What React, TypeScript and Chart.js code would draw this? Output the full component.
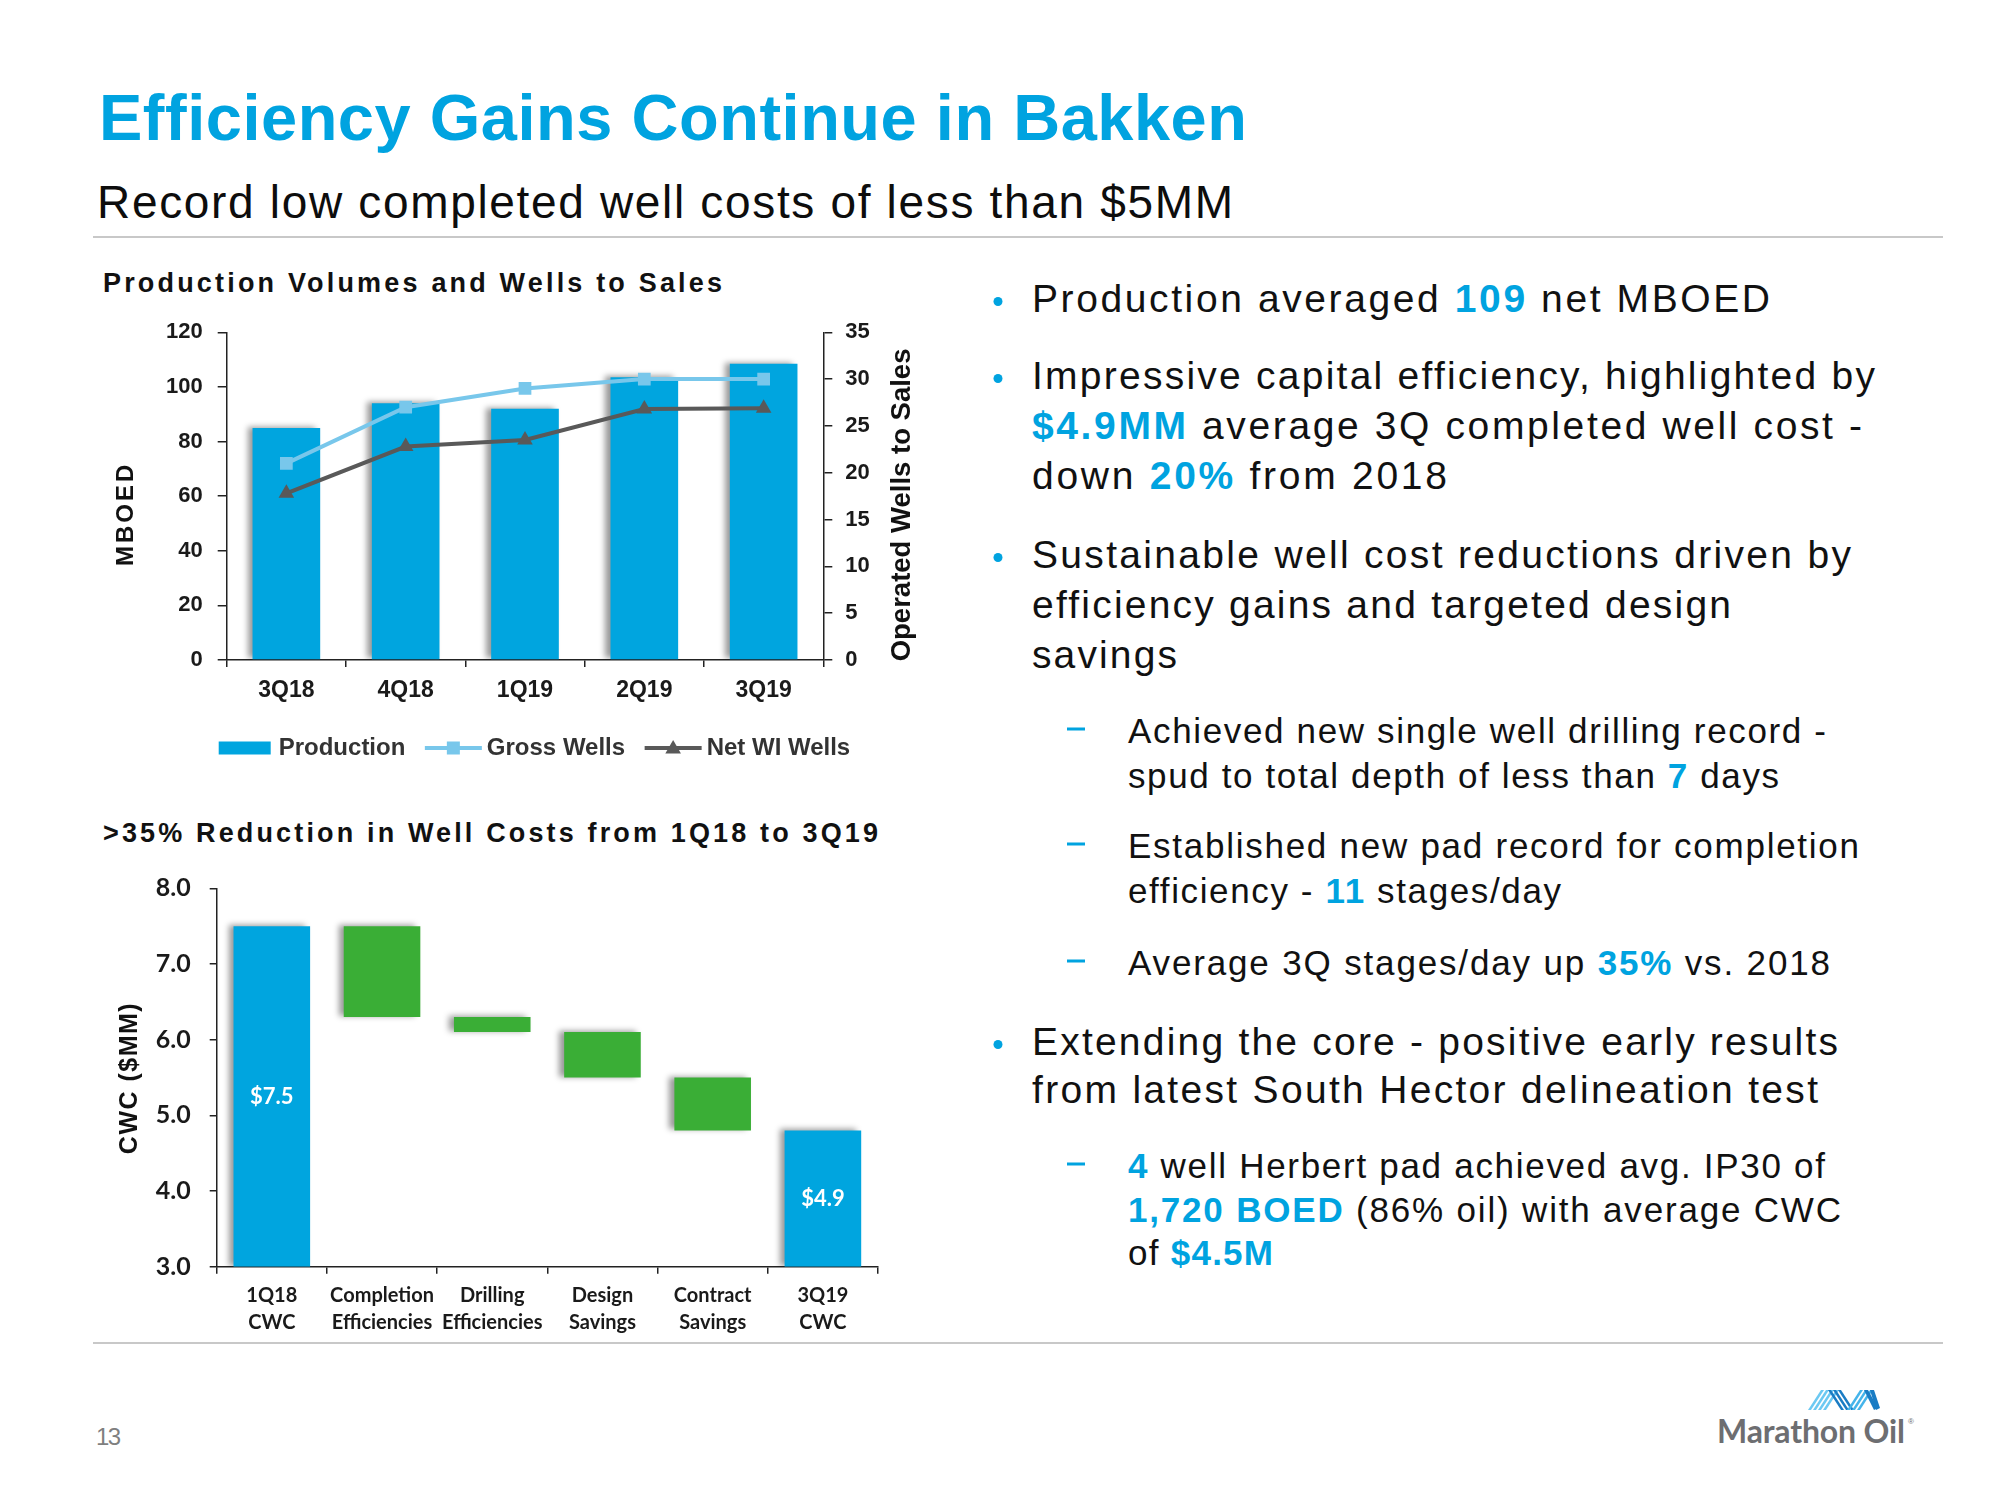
import React, { useEffect, useRef } from 'react';
import { Chart, registerables } from 'chart.js';

Chart.register(...registerables);

// ---------------- Data ----------------
const quarters: string[] = ['3Q18', '4Q18', '1Q19', '2Q19', '3Q19'];
const productionMboed: number[] = [85, 94, 92, 103.5, 108.5];
const grossWells: number[] = [21, 27, 29, 30, 30];
const netWiWells: number[] = [17.8, 22.8, 23.5, 26.8, 26.9];
const mboedTicks: number[] = [0, 20, 40, 60, 80, 100, 120];
const wellsTicks: number[] = [0, 5, 10, 15, 20, 25, 30, 35];

const cwcCategories: string[][] = [
  ['1Q18', 'CWC'],
  ['Completion', 'Efficiencies'],
  ['Drilling', 'Efficiencies'],
  ['Design', 'Savings'],
  ['Contract', 'Savings'],
  ['3Q19', 'CWC'],
];
const cwcLow: number[] = [3.0, 6.3, 6.1, 5.5, 4.8, 3.0];
const cwcHigh: number[] = [7.5, 7.5, 6.3, 6.1, 5.5, 4.8];
const cwcIsTotal: boolean[] = [true, false, false, false, false, true];
const cwcValueLabels: string[] = ['$7.5', '', '', '', '', '$4.9'];
const cwcTicks: number[] = [3, 4, 5, 6, 7, 8];

// ---------------- Styles ----------------
const BLUE = '#00A5DF';
const TITLE_BLUE = '#00A3E0';
const LIGHT_BLUE = '#78C7EB';
const DARK_GRAY = '#595959';
const GREEN = '#3AAE36';
const AXIS = '#1a1a1a';
const SANS = "'Liberation Sans', Arial, sans-serif";
const CAL = "Lato, 'Liberation Sans', sans-serif";

const barShadow = {
  id: 'barShadow',
  beforeDatasetDraw(chart: any, args: any) {
    if (args.meta.type !== 'bar') return;
    const ctx = chart.ctx;
    ctx.save();
    ctx.shadowColor = 'rgba(0,0,0,0.4)';
    ctx.shadowBlur = 6;
    ctx.shadowOffsetX = -5;
    ctx.shadowOffsetY = -1;
  },
  afterDatasetDraw(chart: any, args: any) {
    if (args.meta.type !== 'bar') return;
    chart.ctx.restore();
  },
};

type AxisTitle = { text: string; side: 'left' | 'right'; dx: number; dy: number; font: string; spacing: number };

function makeAxisTitles(items: AxisTitle[]) {
  return {
    id: 'axisTitles',
    afterDraw(chart: any) {
      const { ctx, chartArea } = chart;
      items.forEach((t) => {
        const x = (t.side === 'left' ? chartArea.left : chartArea.right) + t.dx;
        const y = (chartArea.top + chartArea.bottom) / 2 + t.dy;
        ctx.save();
        ctx.translate(x, y);
        ctx.rotate(-Math.PI / 2);
        ctx.font = t.font;
        if ('letterSpacing' in ctx) (ctx as any).letterSpacing = t.spacing + 'px';
        ctx.fillStyle = '#111';
        ctx.textAlign = 'center';
        ctx.textBaseline = 'middle';
        ctx.fillText(t.text, 0, 0);
        ctx.restore();
      });
    },
  };
}

const comboLegend = {
  id: 'comboLegend',
  afterDraw(chart: any) {
    const { ctx, chartArea } = chart;
    let x = chartArea.left - 8;
    const y = chartArea.bottom + 88;
    ctx.save();
    ctx.font = `bold 24px ${SANS}`;
    ctx.textBaseline = 'middle';
    ctx.textAlign = 'left';
    chart.data.datasets.forEach((ds: any) => {
      if (ds.type === 'bar') {
        ctx.fillStyle = ds.backgroundColor;
        ctx.fillRect(x, y - 6.5, 52, 13);
        x += 52 + 8;
      } else {
        ctx.strokeStyle = ds.borderColor;
        ctx.lineWidth = ds.borderWidth;
        ctx.beginPath();
        ctx.moveTo(x, y);
        ctx.lineTo(x + 57, y);
        ctx.stroke();
        const cx = x + 28.5;
        ctx.fillStyle = ds.borderColor;
        if (ds.pointStyle === 'rect') {
          ctx.fillRect(cx - 6.5, y - 6.5, 13, 13);
        } else {
          ctx.beginPath();
          ctx.moveTo(cx, y - 8);
          ctx.lineTo(cx + 7.8, y + 5.5);
          ctx.lineTo(cx - 7.8, y + 5.5);
          ctx.closePath();
          ctx.fill();
        }
        x += 57 + 5;
      }
      ctx.fillStyle = '#333';
      ctx.fillText(ds.label, x, y);
      x += ctx.measureText(ds.label).width + 19.5;
    });
    ctx.restore();
  },
};

const cwcValueLabelPlugin = {
  id: 'cwcValueLabels',
  afterDatasetsDraw(chart: any) {
    const meta = chart.getDatasetMeta(0);
    const ctx = chart.ctx;
    ctx.save();
    ctx.font = `bold 22px ${CAL}`;
    ctx.fillStyle = '#ffffff';
    ctx.textAlign = 'center';
    ctx.textBaseline = 'middle';
    meta.data.forEach((el: any, i: number) => {
      const label = cwcValueLabels[i];
      if (!label) return;
      ctx.fillText(label, el.x, (el.y + el.base) / 2);
    });
    ctx.restore();
  },
};

const axisLine = { display: true, color: '#222', width: 1.5 };

function ProductionChart() {
  const ref = useRef<HTMLCanvasElement>(null);
  useEffect(() => {
    const canvas = ref.current!;
    const tickFont = { family: SANS, size: 22, weight: 'bold' as const };
    const chart = new Chart(canvas, {
      type: 'bar',
      data: {
        labels: quarters,
        datasets: [
          {
            type: 'bar',
            label: 'Production',
            data: productionMboed,
            yAxisID: 'y',
            backgroundColor: BLUE,
            barPercentage: 0.567,
            categoryPercentage: 1,
            order: 3,
          },
          {
            type: 'line',
            label: 'Gross Wells',
            data: grossWells,
            yAxisID: 'y1',
            borderColor: LIGHT_BLUE,
            backgroundColor: LIGHT_BLUE,
            pointBackgroundColor: LIGHT_BLUE,
            borderWidth: 4,
            tension: 0,
            pointStyle: 'rect',
            pointRadius: 9,
            pointHoverRadius: 9,
            pointBorderWidth: 0,
            order: 2,
          },
          {
            type: 'line',
            label: 'Net WI Wells',
            data: netWiWells,
            yAxisID: 'y1',
            borderColor: DARK_GRAY,
            backgroundColor: DARK_GRAY,
            pointBackgroundColor: DARK_GRAY,
            borderWidth: 4,
            tension: 0,
            pointStyle: 'triangle',
            pointRadius: 9,
            pointHoverRadius: 9,
            pointBorderWidth: 0,
            order: 1,
          },
        ] as any,
      },
      options: {
        responsive: false,
        animation: false,
        devicePixelRatio: 1,
        layout: { padding: { top: 32.3, left: 0, right: 0, bottom: 0 } },
        plugins: { legend: { display: false }, tooltip: { enabled: false } },
        scales: {
          x: {
            type: 'category',
            offset: true,
            grid: { offset: true, drawOnChartArea: false, drawTicks: true, tickLength: 7, color: '#222', lineWidth: 1.5 },
            border: axisLine,
            ticks: { font: { family: SANS, size: 23, weight: 'bold' }, color: AXIS, padding: 10, maxRotation: 0, autoSkip: false },
            afterFit: (s: any) => { s.height = 120; },
          },
          y: {
            position: 'left',
            min: 0,
            max: 120,
            afterBuildTicks: (s: any) => { s.ticks = mboedTicks.map((v) => ({ value: v })); },
            grid: { drawOnChartArea: false, tickLength: 9, color: '#222', lineWidth: 1.5 },
            border: axisLine,
            ticks: { font: tickFont, color: AXIS, padding: 15 },
            afterFit: (s: any) => { s.width = 128.7; },
          },
          y1: {
            position: 'right',
            min: 0,
            max: 35,
            afterBuildTicks: (s: any) => { s.ticks = wellsTicks.map((v) => ({ value: v })); },
            grid: { drawOnChartArea: false, tickLength: 9, color: '#222', lineWidth: 1.5 },
            border: axisLine,
            ticks: { font: tickFont, color: AXIS, padding: 13 },
            afterFit: (s: any) => { s.width = 124.7; },
          },
        } as any,
      },
      plugins: [
        barShadow,
        comboLegend,
        makeAxisTitles([
          { text: 'MBOED', side: 'left', dx: -100.7, dy: 17.8, font: `bold 24px ${SANS}`, spacing: 3 },
          { text: 'Operated Wells to Sales', side: 'right', dx: 78.7, dy: 8.8, font: `bold 27.5px ${SANS}`, spacing: 0 },
        ]),
      ],
    });
    return () => chart.destroy();
  }, []);
  return <canvas ref={ref} width={850} height={480} style={{ position: 'absolute', left: 98, top: 300 }} />;
}

function CwcChart() {
  const ref = useRef<HTMLCanvasElement>(null);
  useEffect(() => {
    const canvas = ref.current!;
    const chart = new Chart(canvas, {
      type: 'bar',
      data: {
        labels: cwcCategories as any,
        datasets: [
          {
            label: 'CWC ($MM)',
            data: cwcLow.map((lo, i) => [lo, cwcHigh[i]]) as any,
            backgroundColor: cwcIsTotal.map((t) => (t ? BLUE : GREEN)),
            barPercentage: 0.695,
            categoryPercentage: 1,
          },
        ],
      },
      options: {
        responsive: false,
        animation: false,
        devicePixelRatio: 1,
        layout: { padding: { top: 38.3, left: 0, right: 20, bottom: 0 } },
        plugins: { legend: { display: false }, tooltip: { enabled: false } },
        scales: {
          x: {
            offset: true,
            grid: { offset: true, drawOnChartArea: false, drawTicks: true, tickLength: 7, color: '#222', lineWidth: 1.5 },
            border: axisLine,
            ticks: { font: { family: CAL, size: 20, weight: 'bold', lineHeight: 1.35 }, color: AXIS, padding: 8, maxRotation: 0, autoSkip: false },
            afterFit: (s: any) => { s.height = 83.3; },
          },
          y: {
            min: 3,
            max: 8,
            afterBuildTicks: (s: any) => { s.ticks = cwcTicks.map((v) => ({ value: v })); },
            grid: { drawOnChartArea: false, tickLength: 7, color: '#222', lineWidth: 1.5 },
            border: axisLine,
            ticks: { font: { family: CAL, size: 25, weight: 'bold' }, color: AXIS, padding: 19, callback: (v: any) => Number(v).toFixed(1) },
            afterFit: (s: any) => { s.width = 118.7; },
          },
        } as any,
      },
      plugins: [
        barShadow,
        cwcValueLabelPlugin,
        makeAxisTitles([
          { text: 'CWC ($MM)', side: 'left', dx: -86.7, dy: 0.5, font: `bold 25px ${SANS}`, spacing: 1.5 },
        ]),
      ],
    });
    return () => chart.destroy();
  }, []);
  return <canvas ref={ref} width={800} height={500} style={{ position: 'absolute', left: 98, top: 850 }} />;
}

const HL = ({ children }: { children: React.ReactNode }) => (
  <tspan fill={TITLE_BLUE} fontWeight="bold">{children}</tspan>
);

function Line(props: { x: number; y: number; size: number; right: number; weight?: string; fill?: string; family?: string; children: React.ReactNode }) {
  const { x, y, size, right, weight = 'normal', fill = '#111', family = SANS, children } = props;
  return (
    <text x={x} y={y} fontSize={size} fontWeight={weight} fill={fill} fontFamily={family} textLength={right - x} lengthAdjust="spacing">
      {children}
    </text>
  );
}

const Bullet = ({ y }: { y: number }) => <circle cx={998} cy={y - 10.5} r={4.5} fill={TITLE_BLUE} />;
const Dash = ({ y }: { y: number }) => <rect x={1067} y={y - 15.5} width={18} height={3} fill={TITLE_BLUE} />;

function Slide() {
  return (
    <svg width={2000} height={1500} style={{ position: 'absolute', left: 0, top: 0 }}>
      <rect x={0} y={0} width={2000} height={1500} fill="#ffffff" />
      <Line x={99} y={140} size={65} right={1247} weight="bold" fill={TITLE_BLUE}>Efficiency Gains Continue in Bakken</Line>
      <Line x={97} y={218} size={46} right={1233} fill="#0d0d0d">Record low completed well costs of less than $5MM</Line>
      <rect x={93} y={236} width={1850} height={2} fill="#c8c8c8" />

      <Line x={103} y={292} size={27} right={722} weight="bold">Production Volumes and Wells to Sales</Line>
      <Line x={103} y={842} size={27} right={878} weight="bold">&gt;35% Reduction in Well Costs from 1Q18 to 3Q19</Line>

      <Bullet y={312} />
      <Line x={1032} y={312} size={39} right={1770}>Production averaged <HL>109</HL> net MBOED</Line>
      <Bullet y={389} />
      <Line x={1032} y={389} size={39} right={1875}>Impressive capital efficiency, highlighted by</Line>
      <Line x={1032} y={439} size={39} right={1862}><HL>$4.9MM</HL> average 3Q completed well cost -</Line>
      <Line x={1032} y={489} size={39} right={1447}>down <HL>20%</HL> from 2018</Line>
      <Bullet y={568} />
      <Line x={1032} y={568} size={39} right={1851}>Sustainable well cost reductions driven by</Line>
      <Line x={1032} y={618} size={39} right={1731}>efficiency gains and targeted design</Line>
      <Line x={1032} y={668} size={39} right={1177}>savings</Line>

      <Dash y={743} />
      <Line x={1128} y={743} size={35} right={1826}>Achieved new single well drilling record -</Line>
      <Line x={1128} y={788} size={35} right={1779}>spud to total depth of less than <HL>7</HL> days</Line>
      <Dash y={858} />
      <Line x={1128} y={858} size={35} right={1859}>Established new pad record for completion</Line>
      <Line x={1128} y={903} size={35} right={1561}>efficiency - <HL>11</HL> stages/day</Line>
      <Dash y={975} />
      <Line x={1128} y={975} size={35} right={1830}>Average 3Q stages/day up <HL>35%</HL> vs. 2018</Line>

      <Bullet y={1055} />
      <Line x={1032} y={1055} size={39} right={1838}>Extending the core - positive early results</Line>
      <Line x={1032} y={1103} size={39} right={1818}>from latest South Hector delineation test</Line>

      <Dash y={1178} />
      <Line x={1128} y={1178} size={35} right={1825}><HL>4</HL> well Herbert pad achieved avg. IP30 of</Line>
      <Line x={1128} y={1222} size={35} right={1841}><HL>1,720 BOED</HL> (86% oil) with average CWC</Line>
      <Line x={1128} y={1265} size={35} right={1273}>of <HL>$4.5M</HL></Line>

      <rect x={93} y={1342} width={1850} height={2} fill="#c8c8c8" />
      <Line x={96} y={1445} size={24} right={121} fill="#7f7f7f">13</Line>

      <g>
        {[0, 1, 2, 3].map((i) => (
          <polygon key={'a' + i} points={`${1808 + 5 * i},1410 ${1811 + 5 * i},1410 ${1824 + 5 * i},1390 ${1821 + 5 * i},1390`} fill="#6CC9F2" />
        ))}
        {[0, 1, 2].map((i) => (
          <polygon key={'b' + i} points={`${1828 + 5 * i},1390 ${1831 + 5 * i},1390 ${1844 + 5 * i},1410 ${1841 + 5 * i},1410`} fill="#1A7CC4" />
        ))}
        {[0, 1, 2].map((i) => (
          <polygon key={'c' + i} points={`${1847 + 5 * i},1410 ${1850 + 5 * i},1410 ${1863 + 5 * i},1390 ${1860 + 5 * i},1390`} fill="#45B4EA" />
        ))}
        {[0, 1].map((i) => (
          <polygon key={'d' + i} points={`${1864 + 6 * i},1390 ${1868 + 6 * i},1390 ${1878 + 2 * i},1408 ${1874 + 2 * i},1410`} fill="#1A7CC4" />
        ))}
      </g>
      <Line x={1717} y={1443} size={32} right={1905} weight="bold" fill="#6d6e71" family={CAL}>Marathon Oil</Line>
      <text x={1908} y={1424} fontSize={8} fill="#6d6e71" fontFamily={SANS}>®</text>
    </svg>
  );
}

export default function App() {
  return (
    <div style={{ position: 'absolute', left: 0, top: 0, width: 2000, height: 1500, background: '#ffffff', overflow: 'hidden' }}>
      <Slide />
      <ProductionChart />
      <CwcChart />
    </div>
  );
}
